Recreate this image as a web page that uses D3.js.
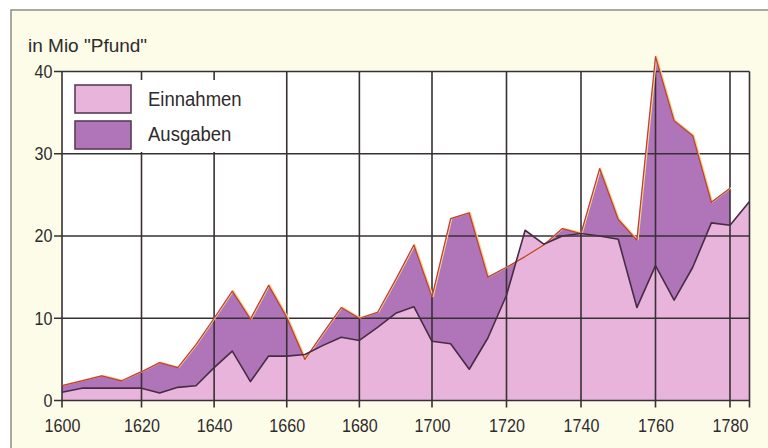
<!DOCTYPE html>
<html><head><meta charset="utf-8">
<script src="https://cdn.jsdelivr.net/npm/d3@7/dist/d3.min.js"></script>
<style>
html,body{margin:0;padding:0;background:#fff;}
svg{display:block;}
text{font-family:"Liberation Sans", Arial, Helvetica, sans-serif; fill:#2f2b2d;}
</style></head><body>
<svg id="c" width="768" height="448"></svg>
<script>
// ---- data ----
const einYears = [1600,1605,1610,1615,1620,1625,1630,1635,1640,1645,1650,1655,1660,1665,1670,1675,1680,1685,1690,1695,1700,1705,1710,1715,1720,1725,1730,1735,1740,1745,1750,1755,1760,1765,1770,1775,1780,1785];
const einnahmen = [1.0,1.5,1.5,1.5,1.5,0.9,1.6,1.8,4.0,6.0,2.3,5.4,5.4,5.6,6.7,7.7,7.3,8.9,10.6,11.4,7.2,6.9,3.8,7.6,12.8,20.7,19.0,20.0,20.3,20.0,19.6,11.3,16.4,12.2,16.2,21.6,21.3,24.2];
const ausYears = [1600,1605,1610,1615,1620,1625,1630,1635,1640,1645,1650,1655,1660,1665,1670,1675,1680,1685,1690,1695,1700,1705,1710,1715,1720,1725,1730,1735,1740,1745,1750,1755,1760,1765,1770,1775,1780];
const ausgaben = [1.8,2.4,3.0,2.4,3.5,4.6,4.0,6.8,10.0,13.3,9.9,14.0,10.1,5.0,8.2,11.3,10.0,10.7,14.7,18.9,12.6,22.1,22.8,15.0,16.2,17.5,18.9,20.9,20.3,28.2,22.0,19.5,41.8,34.0,32.2,24.1,25.8];
const xTicks = [1600,1620,1640,1660,1680,1700,1720,1740,1760,1780];
const xEnd = 1785;
const yTicks = [0,10,20,30,40];
const legendLabels = ["Einnahmen","Ausgaben"];
const yTitle = 'in Mio "Pfund"';

// ---- styles ----
const cream = "#fcfce8";
const pink = "#e8b4dc";
const purple = "#b074b9";
const gridColor = "#373034";
const einLine = "#482c44";
const ausLine = "#bf3f3a";
const ausHalo = "#f0d98a";

const svg = d3.select("#c");
svg.append("rect").attr("x",11).attr("y",10).attr("width",757).attr("height",438).attr("fill",cream);
svg.append("path").attr("d","M11,448V10H768").attr("fill","none").attr("stroke","#8d8d86").attr("stroke-width",1.5);

const x = d3.scaleLinear().domain([1600,1620,1700,1780,1785]).range([62,141.5,432,730,749.5]);
const y = d3.scaleLinear().domain([0,40]).range([400.5,71.5]);

// plot background
svg.append("rect").attr("x",x(1600)).attr("y",y(40)).attr("width",x(xEnd)-x(1600)).attr("height",y(0)-y(40)).attr("fill","#fff");

const ausData = ausYears.map((yr,i)=>({yr, v:ausgaben[i]}));
const einData = einYears.map((yr,i)=>({yr, v:einnahmen[i]}));
const area = d3.area().x(d=>x(d.yr)).y0(y(0)).y1(d=>y(d.v));
const line = d3.line().x(d=>x(d.yr)).y(d=>y(d.v));

svg.append("path").datum(ausData).attr("d",area).attr("fill",purple);
svg.append("path").datum(einData).attr("d",area).attr("fill",pink);

// grid
const g = svg.append("g").attr("stroke",gridColor).attr("stroke-width",1.6);
g.selectAll("line.v").data(xTicks.concat([xEnd])).join("line").attr("class","v")
  .attr("x1",d=>x(d)).attr("x2",d=>x(d)).attr("y1",y(40)).attr("y2",y(0)+7);
g.selectAll("line.h").data(yTicks).join("line").attr("class","h")
  .attr("x1",x(1600)-8).attr("x2",x(xEnd)).attr("y1",d=>y(d)).attr("y2",d=>y(d));

// legend
const lg = svg.append("g");
lg.append("rect").attr("x",x(1600)+1).attr("y",80).attr("width",212).attr("height",72).attr("fill","#fff");
const legFills = [pink, purple];
legendLabels.forEach((lab,i)=>{
  lg.append("rect").attr("x",75).attr("y",85+i*36).attr("width",56).attr("height",28)
    .attr("fill",legFills[i]).attr("stroke","#5a3c56").attr("stroke-width",1.6);
  lg.append("g").attr("transform",`translate(148,${106+i*35.3}) scale(0.95,1)`)
    .append("text").attr("font-size","19.5px").text(lab);
});

// data lines
svg.append("path").datum(ausData).attr("d",line).attr("fill","none")
  .attr("stroke",ausHalo).attr("stroke-width",1.6).attr("transform","translate(1,-0.4)").attr("stroke-linejoin","round");
svg.append("path").datum(ausData).attr("d",line).attr("fill","none")
  .attr("stroke",ausLine).attr("stroke-width",1.3).attr("stroke-linejoin","round");
svg.append("path").datum(einData).attr("d",line).attr("fill","none")
  .attr("stroke",einLine).attr("stroke-width",1.6).attr("stroke-linejoin","round");

// axes labels
const xAx = svg.append("g").attr("transform",`translate(0,${y(0)})`)
  .call(d3.axisBottom(x).tickValues(xTicks).tickFormat(d3.format("d")).tickSize(0).tickPadding(18));
const yAx = svg.append("g").attr("transform",`translate(${x(1600)},0)`)
  .call(d3.axisLeft(y).tickValues(yTicks).tickSize(0).tickPadding(11));
[xAx,yAx].forEach(a=>{
  a.select(".domain").remove();
  a.selectAll("text").attr("font-size","18.5px").attr("font-family","Liberation Sans, Arial, sans-serif")
    .attr("fill","#2f2b2d").attr("transform","scale(0.87,1)");
});

svg.append("text").attr("x",28).attr("y",52.3).attr("font-size","19px").text(yTitle);
</script>
</body></html>
